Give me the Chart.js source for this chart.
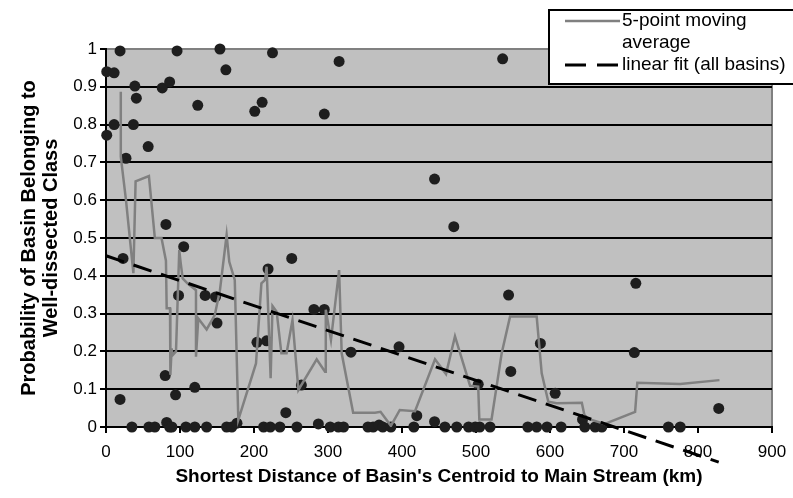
<!DOCTYPE html>
<html>
<head>
<meta charset="utf-8">
<script src="https://cdn.jsdelivr.net/npm/chart.js@4"></script>
<style>
  html, body { margin: 0; padding: 0; background: #fff; }
  #wrap { width: 793px; height: 498px; }
</style>
</head>
<body>
<div id="wrap"><canvas id="chart" width="793" height="498"></canvas></div>
<script>
// basins: distance to main stream (km) and probability of well-dissected class
const basinX = [1, 1, 11, 11, 19, 23, 27, 37, 39, 41, 57, 76, 81, 86, 96, 124, 154, 162, 201, 211, 225, 295, 315, 444, 470, 536,
  19, 80, 82, 94, 98, 105, 120, 134, 148, 150, 204, 217, 219, 243, 251, 264, 281, 287, 295, 331, 396, 420, 444, 503, 544, 547, 587, 607, 644, 714, 716, 828,
  35, 58, 66, 86, 89, 108, 120, 136, 163, 170, 177, 213, 222, 235, 258, 303, 314, 321, 354, 361, 369, 374, 385, 416, 458, 474, 490, 499, 505, 519, 570, 582, 596, 615, 647, 661, 670, 760, 776]
const basinY = [0.772, 0.94, 0.937, 0.80, 0.995, 0.446, 0.711, 0.80, 0.902, 0.87, 0.742, 0.897, 0.536, 0.913, 0.995, 0.851, 1.0, 0.945, 0.835, 0.859, 0.99, 0.828, 0.967, 0.656, 0.53, 0.974,
  0.073, 0.136, 0.012, 0.085, 0.348, 0.477, 0.105, 0.348, 0.344, 0.275, 0.224, 0.228, 0.418, 0.038, 0.446, 0.111, 0.311, 0.008, 0.311, 0.198, 0.212, 0.03, 0.014, 0.113, 0.349, 0.147, 0.221, 0.089, 0.02, 0.197, 0.38, 0.049,
  0, 0, 0, 0, 0, 0, 0, 0, 0, 0, 0.01, 0, 0, 0, 0, 0, 0, 0, 0, 0, 0.005, 0, 0, 0, 0, 0, 0, 0, 0, 0, 0, 0, 0, 0, 0, 0, 0, 0, 0]

// 5-point moving average
const avgX = [20, 20, 27, 37, 40, 58, 66, 75, 81, 82, 86.5, 87, 88.7, 90, 94.6, 99, 101, 103.6, 110, 121.6, 121.6, 124.7, 136, 147, 154, 163, 166.6, 174, 178.8,
  202.7, 210, 215, 217, 222.5, 225, 230.6, 237, 244, 252, 260, 284.7, 296, 297, 304, 315, 318.5, 334, 363.5, 371, 385, 397, 417.6, 444.6, 459.5, 471.6,
  492, 503, 504.5, 521, 534.7, 546, 582, 588.8, 597.7, 609, 643, 647, 654, 674, 715, 718, 776, 829]
const avgY = [0.887, 0.715, 0.6, 0.407, 0.65, 0.664, 0.5, 0.5, 0.44, 0.314, 0.314, 0.138, 0.208, 0.19, 0.2, 0.468, 0.433, 0.393, 0.38, 0.362, 0.186, 0.287, 0.258, 0.296, 0.362, 0.508, 0.437, 0.389, 0.019,
  0.168, 0.38, 0.389, 0.424, 0.129, 0.32, 0.305, 0.195, 0.195, 0.283, 0.098, 0.179, 0.146, 0.31, 0.23, 0.415, 0.195, 0.038, 0.038, 0.04, 0.003, 0.045, 0.042, 0.179, 0.14, 0.24,
  0.109, 0.107, 0.02, 0.02, 0.195, 0.292, 0.292, 0.142, 0.067, 0.063, 0.064, 0.027, 0.02, 0.008, 0.04, 0.117, 0.114, 0.124]

// linear fit end points
const fitX = [0, 828]
const fitY = [0.453, -0.093]

const xTicks = ['0', '100', '200', '300', '400', '500', '600', '700', '800', '900']
const yTicks = ['0', '0.1', '0.2', '0.3', '0.4', '0.5', '0.6', '0.7', '0.8', '0.9', '1']

const legendLines = [['5-point moving', 'average'], ['linear fit (all basins)']]

const FONT = "'Liberation Sans', Arial, sans-serif"
Chart.defaults.font.family = FONT
Chart.defaults.color = '#000'

const toPts = (xs, ys) => xs.map((x, i) => ({x: x, y: ys[i]}))

const plotBg = {
  id: 'plotBg',
  beforeDraw(chart) {
    const {ctx, chartArea: a} = chart
    ctx.save()
    ctx.fillStyle = '#c0c0c0'
    ctx.fillRect(a.left, a.top, a.right - a.left, a.bottom - a.top)
    ctx.restore()
  }
}

// boxed legend in the top right corner, running off the edge
const boxLegend = {
  id: 'boxLegend',
  afterDraw(chart) {
    const ctx = chart.ctx
    ctx.save()
    ctx.fillStyle = '#fff'
    ctx.fillRect(549, 10, 270, 74)
    ctx.strokeStyle = '#000'
    ctx.lineWidth = 2
    ctx.strokeRect(549, 10, 270, 74)

    ctx.strokeStyle = '#808080'
    ctx.lineWidth = 2.5
    ctx.beginPath(); ctx.moveTo(565, 21); ctx.lineTo(620, 21); ctx.stroke()

    ctx.strokeStyle = '#000'
    ctx.lineWidth = 3
    ctx.setLineDash([21, 11])
    ctx.beginPath(); ctx.moveTo(565, 65); ctx.lineTo(620, 65); ctx.stroke()
    ctx.setLineDash([])

    ctx.fillStyle = '#000'
    ctx.font = '19px ' + FONT
    ctx.textBaseline = 'middle'
    ctx.fillText(legendLines[0][0], 622, 21)
    ctx.fillText(legendLines[0][1], 622, 43)
    ctx.fillText(legendLines[1][0], 622, 65)
    ctx.restore()
  }
}

const mychart = new Chart(document.getElementById('chart'), {
  data: {
    datasets: [
      {
        type: 'line',
        label: '5-point moving average',
        data: toPts(avgX, avgY),
        borderColor: '#808080',
        borderWidth: 2.5,
        pointRadius: 0,
        tension: 0,
        order: 2
      },
      {
        type: 'line',
        label: 'linear fit (all basins)',
        data: toPts(fitX, fitY),
        borderColor: '#000',
        borderWidth: 3,
        borderDash: [19, 10],
        pointRadius: 0,
        clip: false,
        order: 1
      },
      {
        type: 'scatter',
        label: 'basins',
        data: toPts(basinX, basinY),
        backgroundColor: '#1e1e1e',
        borderWidth: 0,
        pointRadius: 5.5,
        clip: false,
        order: 3
      }
    ]
  },
  options: {
    responsive: false,
    devicePixelRatio: 1,
    animation: false,
    layout: { padding: { top: 49, right: 21, left: 0, bottom: 0 } },
    plugins: {
      legend: { display: false },
      tooltip: { enabled: false }
    },
    scales: {
      x: {
        type: 'linear',
        min: 0, max: 900,
        afterFit(s) { s.height = 71; s.paddingLeft = 0; s.paddingRight = 0 },
        ticks: {
          stepSize: 100,
          padding: 9,
          font: { size: 17 },
          color: '#000',
          callback: (v) => xTicks[Math.round(v / 100)]
        },
        grid: {
          color: (c) => (c.tick && c.tick.value === 900) ? '#808080' : 'rgba(0,0,0,0)',
          lineWidth: 2,
          tickColor: '#000',
          tickLength: 6
        },
        border: { color: '#000', width: 2 },
        title: {
          display: true,
          text: "Shortest Distance of Basin's Centroid to Main Stream (km)",
          font: { size: 19, weight: 'bold', lineHeight: 1.2 },
          padding: { top: 0, bottom: 10 }
        }
      },
      y: {
        type: 'linear',
        min: 0, max: 1,
        afterFit(s) { s.width = 106 },
        ticks: {
          stepSize: 0.1,
          padding: 3,
          font: { size: 17 },
          color: '#000',
          callback: (v) => yTicks[Math.round(v * 10)]
        },
        grid: {
          color: (c) => (c.tick && c.tick.value === 1) ? '#808080' : '#000',
          lineWidth: 2,
          tickColor: '#000',
          tickLength: 6
        },
        border: { color: '#000', width: 2 },
        title: {
          display: true,
          text: ['Probability of Basin Belonging to', 'Well-dissected Class'],
          font: { size: 20, weight: 'bold', lineHeight: 1.1 },
          padding: { top: 18, bottom: 0 }
        }
      }
    }
  },
  plugins: [plotBg, boxLegend]
})
</script>
</body>
</html>
